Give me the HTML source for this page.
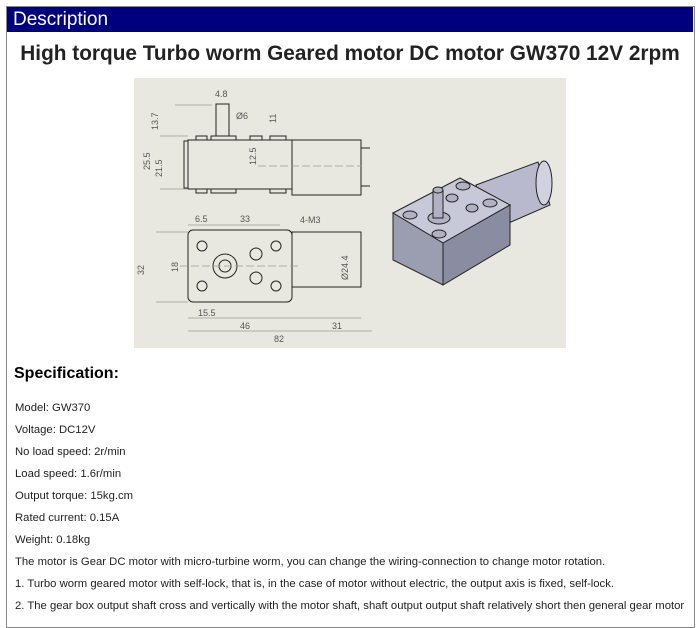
<!DOCTYPE html>
<html><head><meta charset="utf-8"><style>
body{margin:0;background:#fff;width:700px;height:604px;overflow:hidden;font-family:"Liberation Sans",Arial,sans-serif;}
.box{position:absolute;left:6px;top:6px;width:687px;height:620px;border:1px solid #888;overflow:hidden;}
.hd{position:absolute;left:7px;top:7px;width:686px;height:25px;background:#00007f;color:#fff;font-size:19px;line-height:25px;padding-left:6px;box-sizing:border-box;}
h1{position:absolute;left:0;width:700px;top:42px;margin:0;text-align:center;font-size:20.8px;font-weight:bold;color:#222;}
.img{position:absolute;left:134px;top:78px;}
h2{position:absolute;left:14px;top:365px;margin:0;font-size:16px;font-weight:bold;color:#000;}
.t{position:absolute;left:8px;font-size:11.3px;color:#222;white-space:nowrap;}
</style></head><body>
<div class="hd">Description</div>
<h1>High torque Turbo worm Geared motor DC motor GW370 12V 2rpm</h1>
<svg class="img" width="432" height="270" viewBox="134 78 432 270" xmlns="http://www.w3.org/2000/svg">
<rect x="134" y="78" width="432" height="270" fill="#e9e8e0"/>
<g fill="none" stroke="#222" stroke-width="1">
<rect x="188" y="140" width="104" height="49"/>
<rect x="184" y="141" width="4" height="47"/>
<rect x="292" y="140" width="69" height="55"/>
<rect x="216" y="104" width="13" height="32"/>
<rect x="196" y="136" width="11" height="4"/><rect x="211" y="136" width="25" height="4"/>
<rect x="250" y="136" width="12" height="4"/><rect x="270" y="136" width="16" height="4"/>
<rect x="196" y="189" width="11" height="4"/><rect x="211" y="189" width="25" height="4"/><rect x="270" y="189" width="16" height="4"/>
<line x1="361" y1="148" x2="370" y2="148"/><line x1="361" y1="186" x2="370" y2="186"/>
<rect x="188" y="230" width="104" height="72" rx="5"/>
<rect x="292" y="232" width="69" height="55"/>
<circle cx="202" cy="246" r="5"/><circle cx="276" cy="246" r="5"/><circle cx="202" cy="286" r="5"/><circle cx="276" cy="286" r="5"/>
<circle cx="225" cy="266" r="12"/><circle cx="225" cy="266" r="6"/>
<circle cx="256" cy="254" r="6"/><circle cx="256" cy="278" r="6"/>
</g>
<g stroke="#999" stroke-width="0.7" fill="none">
<line x1="180" y1="266" x2="300" y2="266" stroke-dasharray="8 3"/>
<line x1="258" y1="166" x2="362" y2="166" stroke-dasharray="8 3"/>
<line x1="160" y1="136" x2="188" y2="136"/><line x1="160" y1="189" x2="188" y2="189"/>
<line x1="156" y1="232" x2="188" y2="232"/><line x1="156" y1="302" x2="188" y2="302"/>
<line x1="188" y1="318" x2="292" y2="318"/><line x1="292" y1="318" x2="361" y2="318"/><line x1="188" y1="331" x2="372" y2="331"/>
<line x1="188" y1="225" x2="280" y2="225"/><line x1="175" y1="105" x2="212" y2="105"/>
</g>
<g font-size="9" fill="#555" font-family="Liberation Sans,sans-serif">
<text x="215" y="97">4.8</text><text x="236" y="119">Ø6</text>
<text x="195" y="222">6.5</text><text x="240" y="222">33</text><text x="300" y="223">4-M3</text>
<text x="198" y="316">15.5</text><text x="240" y="329">46</text><text x="332" y="329">31</text><text x="274" y="342">82</text>
<text transform="translate(158,130) rotate(-90)">13.7</text><text transform="translate(150,170) rotate(-90)">25.5</text>
<text transform="translate(162,177) rotate(-90)">21.5</text><text transform="translate(256,165) rotate(-90)">12.5</text>
<text transform="translate(144,275) rotate(-90)">32</text><text transform="translate(178,272) rotate(-90)">18</text>
<text transform="translate(348,280) rotate(-90)">Ø24.4</text><text transform="translate(276,123) rotate(-90)">11</text>
</g>
<polygon points="476,185 538,162 550,205 488,232" fill="#b8b9cc" stroke="#222"/>
<ellipse cx="544" cy="183" rx="8" ry="22" fill="#d0d2e0" stroke="#222"/>
<polygon points="393,213 460,178 510,205 443,243" fill="#c8c9d8" stroke="#222"/>
<polygon points="393,213 443,243 443,285 393,260" fill="#9b9db0" stroke="#222"/>
<polygon points="443,243 510,205 510,245 443,285" fill="#8a8ca2" stroke="#222"/>
<g fill="#b0b2c4" stroke="#222">
<ellipse cx="410" cy="215" rx="7" ry="4"/><ellipse cx="463" cy="186" rx="7" ry="4"/><ellipse cx="490" cy="203" rx="7" ry="4"/><ellipse cx="439" cy="234" rx="7" ry="4"/>
<ellipse cx="452" cy="198" rx="6" ry="4"/><ellipse cx="472" cy="208" rx="6" ry="4"/>
<ellipse cx="439" cy="218" rx="11" ry="6"/>
<rect x="433" y="190" width="10" height="28"/><ellipse cx="438" cy="190" rx="5" ry="3"/>
</g>
</svg>
<h2>Specification:</h2>
<div class="box">
<div class="t" style="top:395px">Model: GW370</div>
<div class="t" style="top:417px">Voltage: DC12V</div>
<div class="t" style="top:439px">No load speed: 2r/min</div>
<div class="t" style="top:461px">Load speed: 1.6r/min</div>
<div class="t" style="top:483px">Output torque: 15kg.cm</div>
<div class="t" style="top:505px">Rated current: 0.15A</div>
<div class="t" style="top:527px">Weight: 0.18kg</div>
<div class="t" style="top:549px">The motor is Gear DC motor with micro-turbine worm, you can change the wiring-connection to change motor rotation.</div>
<div class="t" style="top:571px">1. Turbo worm geared motor with self-lock, that is, in the case of motor without electric, the output axis is fixed, self-lock.</div>
<div class="t" style="top:593px">2. The gear box output shaft cross and vertically with the motor shaft, shaft output output shaft relatively short then general gear motor</div>
</div>
</body></html>
